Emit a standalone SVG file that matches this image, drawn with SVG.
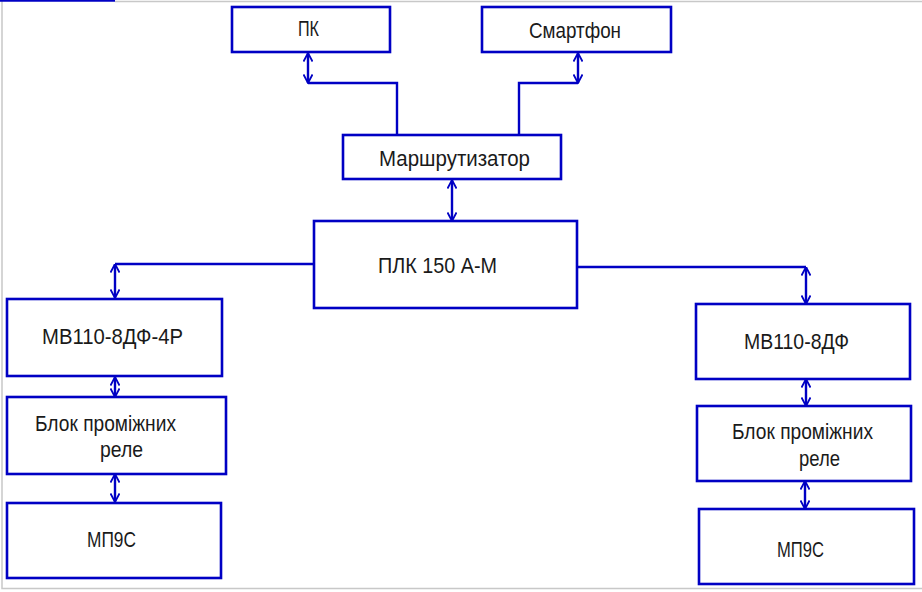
<svg xmlns="http://www.w3.org/2000/svg" width="922" height="592" viewBox="0 0 922 592">
<style>
.box{fill:#fff;stroke:#0000c4;stroke-width:2.6}
.ln{fill:none;stroke:#0000c4;stroke-width:2.4}
.ar{fill:none;stroke:#0000c4;stroke-width:2.4;marker-start:url(#ah);marker-end:url(#ah)}
text{font-family:"Liberation Sans",Arial,sans-serif;font-size:22px;fill:#1a1a1a}
.frame{stroke:#c8c8c8;stroke-width:1.5;fill:none}
</style>
<defs>
<marker id="ah" viewBox="0 0 10 10" refX="9.5" refY="5" markerWidth="10" markerHeight="10" markerUnits="userSpaceOnUse" orient="auto-start-reverse">
<path d="M1,0.5 L9.5,5 L1,9.5" fill="none" stroke="#0000c4" stroke-width="1.8"/>
</marker>
</defs>
<rect width="922" height="592" fill="#fff"/>
<g id="frame">
<path class="frame" d="M2,0 V588.5 H922 M115,1.5 H922"/>
<path d="M0,0.8 H115" stroke="#0000c4" stroke-width="2" fill="none"/>
</g>
<g id="connectors">
<path class="ar" d="M308,53 V83"/>
<path class="ln" d="M308,83 H397 V135"/>
<path class="ar" d="M578,53 V83"/>
<path class="ln" d="M578,83 H519 V135"/>
<path class="ar" d="M452,180 V221"/>
<path class="ln" d="M314,264 H115"/>
<path class="ar" d="M115,264 V298"/>
<path class="ar" d="M115,377 V397"/>
<path class="ar" d="M115,474 V502"/>
<path class="ln" d="M577,267 H806"/>
<path class="ar" d="M806,267 V304"/>
<path class="ar" d="M806,379 V406"/>
<path class="ar" d="M805,481 V509"/>
</g>
<g id="pk">
<rect class="box" x="232" y="7" width="158" height="45"/>
<text x="298" y="36" textLength="21" lengthAdjust="spacingAndGlyphs">ПК</text>
</g>
<g id="smartphone">
<rect class="box" x="482" y="7" width="189" height="45"/>
<text x="529" y="38" textLength="92" lengthAdjust="spacingAndGlyphs">Смартфон</text>
</g>
<g id="router">
<rect class="box" x="343" y="135" width="218" height="44"/>
<text x="379" y="166" textLength="151" lengthAdjust="spacingAndGlyphs">Маршрутизатор</text>
</g>
<g id="plc">
<rect class="box" x="314" y="221" width="263" height="87"/>
<text x="378" y="273" textLength="119" lengthAdjust="spacingAndGlyphs">ПЛК 150 А-М</text>
</g>
<g id="mv110-4r">
<rect class="box" x="7" y="299" width="215" height="77"/>
<text x="42" y="344" textLength="141" lengthAdjust="spacingAndGlyphs">МВ110-8ДФ-4Р</text>
</g>
<g id="relay-left">
<rect class="box" x="7" y="397" width="219" height="77"/>
<text x="35" y="431" textLength="141" lengthAdjust="spacingAndGlyphs">Блок проміжних</text>
<text x="100" y="457" textLength="43" lengthAdjust="spacingAndGlyphs">реле</text>
</g>
<g id="mp9s-left">
<rect class="box" x="7" y="503" width="214" height="75"/>
<text x="87" y="547" textLength="49" lengthAdjust="spacingAndGlyphs">МП9С</text>
</g>
<g id="mv110">
<rect class="box" x="696" y="304" width="214" height="75"/>
<text x="744" y="349" textLength="105" lengthAdjust="spacingAndGlyphs">МВ110-8ДФ</text>
</g>
<g id="relay-right">
<rect class="box" x="697" y="406" width="214" height="75"/>
<text x="732" y="439" textLength="141" lengthAdjust="spacingAndGlyphs">Блок проміжних</text>
<text x="799" y="466" textLength="41" lengthAdjust="spacingAndGlyphs">реле</text>
</g>
<g id="mp9s-right">
<rect class="box" x="699" y="509" width="215" height="75"/>
<text x="777" y="557" textLength="47" lengthAdjust="spacingAndGlyphs">МП9С</text>
</g>
</svg>
